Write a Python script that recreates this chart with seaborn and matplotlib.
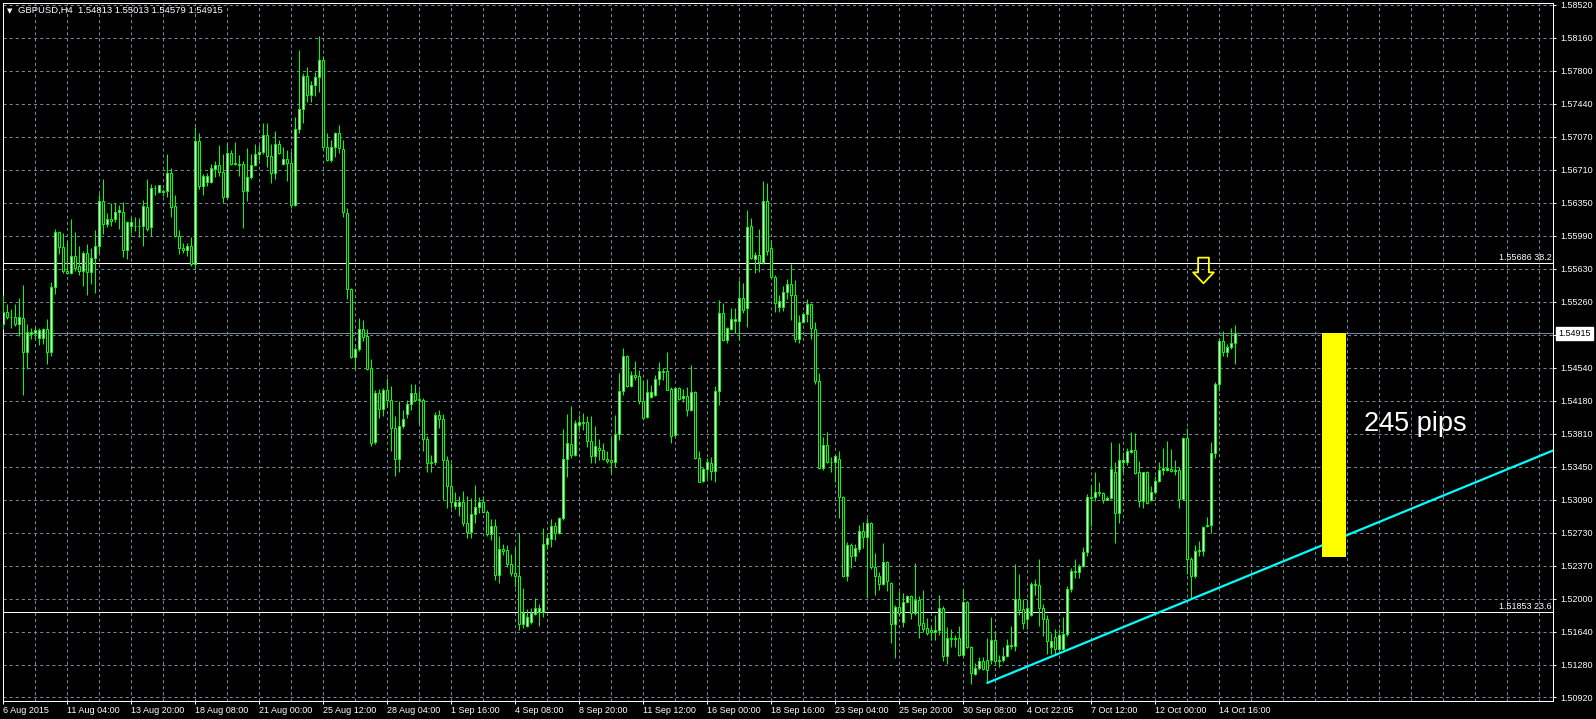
import numpy as np
import matplotlib
matplotlib.use("Agg")
import matplotlib.pyplot as plt
from matplotlib.path import Path
import seaborn as sns

# ---------------- data ----------------
chart_title = "GBPUSD,H4  1.54813 1.55013 1.54579 1.54915"

opens = [
    1.5502, 1.5515, 1.5510, 1.5510, 1.5502, 1.5509, 1.5471, 1.5491, 1.5492, 1.5487,
    1.5487, 1.5496, 1.5471, 1.5543, 1.5603, 1.5586, 1.5560, 1.5558, 1.5576, 1.5566,
    1.5560, 1.5580, 1.5559, 1.5574, 1.5587, 1.5637, 1.5612, 1.5617, 1.5617, 1.5625,
    1.5625, 1.5583, 1.5609, 1.5610, 1.5609, 1.5609, 1.5630, 1.5608, 1.5651, 1.5647,
    1.5648, 1.5648, 1.5668, 1.5631, 1.5598, 1.5585, 1.5583, 1.5588, 1.5568, 1.5703,
    1.5653, 1.5658, 1.5658, 1.5672, 1.5676, 1.5669, 1.5641, 1.5690, 1.5679, 1.5678,
    1.5677, 1.5648, 1.5663, 1.5676, 1.5689, 1.5691, 1.5709, 1.5686, 1.5668, 1.5699,
    1.5678, 1.5683, 1.5679, 1.5632, 1.5716, 1.5738, 1.5774, 1.5753, 1.5764, 1.5773,
    1.5792, 1.5696, 1.5682, 1.5696, 1.5712, 1.5694, 1.5624, 1.5540, 1.5466, 1.5474,
    1.5496, 1.5489, 1.5454, 1.5372, 1.5426, 1.5409, 1.5430, 1.5418, 1.5388, 1.5354,
    1.5390, 1.5403, 1.5414, 1.5426, 1.5420, 1.5419, 1.5376, 1.5350, 1.5350, 1.5402,
    1.5398, 1.5353, 1.5324, 1.5302, 1.5302, 1.5307, 1.5283, 1.5274, 1.5293, 1.5301,
    1.5307, 1.5296, 1.5271, 1.5280, 1.5226, 1.5255, 1.5254, 1.5239, 1.5229, 1.5225,
    1.5173, 1.5170, 1.5175, 1.5184, 1.5186, 1.5186, 1.5261, 1.5266, 1.5280, 1.5273,
    1.5289, 1.5354, 1.5370, 1.5358, 1.5391, 1.5394, 1.5394, 1.5373, 1.5357, 1.5366,
    1.5364, 1.5354, 1.5353, 1.5350, 1.5381, 1.5428, 1.5467, 1.5434, 1.5446, 1.5445,
    1.5417, 1.5400, 1.5422, 1.5424, 1.5441, 1.5450, 1.5450, 1.5431, 1.5380, 1.5432,
    1.5421, 1.5423, 1.5407, 1.5427, 1.5355, 1.5330, 1.5343, 1.5349, 1.5341, 1.5428,
    1.5514, 1.5484, 1.5496, 1.5505, 1.5505, 1.5530, 1.5519, 1.5609, 1.5573, 1.5578,
    1.5570, 1.5637, 1.5585, 1.5553, 1.5521, 1.5521, 1.5537, 1.5546, 1.5534, 1.5485,
    1.5504, 1.5513, 1.5524, 1.5496, 1.5439, 1.5344, 1.5369, 1.5351, 1.5350, 1.5354,
    1.5312, 1.5225, 1.5259, 1.5247, 1.5255, 1.5275, 1.5268, 1.5283, 1.5235, 1.5225,
    1.5217, 1.5241, 1.5218, 1.5173, 1.5191, 1.5175, 1.5197, 1.5203, 1.5185, 1.5199,
    1.5174, 1.5168, 1.5166, 1.5164, 1.5166, 1.5190, 1.5137, 1.5157, 1.5156, 1.5157,
    1.5139, 1.5197, 1.5147, 1.5118, 1.5124, 1.5132, 1.5133, 1.5133, 1.5155, 1.5133,
    1.5133, 1.5137, 1.5148, 1.5148, 1.5200, 1.5189, 1.5178, 1.5183, 1.5215, 1.5215,
    1.5190, 1.5178, 1.5147, 1.5158, 1.5145, 1.5145, 1.5162, 1.5211, 1.5231, 1.5230,
    1.5236, 1.5252, 1.5312, 1.5312, 1.5317, 1.5316, 1.5309, 1.5311, 1.5339, 1.5295,
    1.5350, 1.5350, 1.5361, 1.5364, 1.5339, 1.5308, 1.5339, 1.5309, 1.5318, 1.5330,
    1.5342, 1.5342, 1.5343, 1.5341, 1.5342, 1.5310, 1.5377, 1.5244, 1.5225, 1.5253,
    1.5253, 1.5280, 1.5281, 1.5360, 1.5436, 1.5483, 1.5471, 1.5477, 1.54813,
]

highs = [
    1.5534, 1.5524, 1.5518, 1.5524, 1.5530, 1.5545, 1.5502, 1.5498, 1.5499, 1.5498,
    1.5498, 1.5507, 1.5548, 1.5606, 1.5604, 1.5602, 1.5592, 1.5617, 1.5603, 1.5588,
    1.5582, 1.5590, 1.5585, 1.5605, 1.5645, 1.5661, 1.5624, 1.5635, 1.5635, 1.5633,
    1.5636, 1.5615, 1.5619, 1.5619, 1.5618, 1.5638, 1.5661, 1.5656, 1.5654, 1.5655,
    1.5650, 1.5688, 1.5673, 1.5643, 1.5605, 1.5591, 1.5591, 1.5597, 1.5718, 1.5711,
    1.5666, 1.5668, 1.5678, 1.5681, 1.5698, 1.5688, 1.5700, 1.5693, 1.5702, 1.5687,
    1.5681, 1.5695, 1.5689, 1.5699, 1.5698, 1.5723, 1.5723, 1.5699, 1.5714, 1.5704,
    1.5696, 1.5693, 1.5692, 1.5729, 1.5803, 1.5777, 1.5784, 1.5769, 1.5778, 1.5818,
    1.5796, 1.5711, 1.5704, 1.5713, 1.5720, 1.5704, 1.5629, 1.5541, 1.5477, 1.5508,
    1.5506, 1.5496, 1.5463, 1.5429, 1.5431, 1.5432, 1.5443, 1.5434, 1.5401, 1.5417,
    1.5408, 1.5419, 1.5436, 1.5436, 1.5430, 1.5421, 1.5379, 1.5358, 1.5405, 1.5408,
    1.5403, 1.5357, 1.5349, 1.5318, 1.5313, 1.5319, 1.5313, 1.5311, 1.5325, 1.5312,
    1.5313, 1.5298, 1.5288, 1.5288, 1.5269, 1.5261, 1.5259, 1.5249, 1.5256, 1.5272,
    1.5212, 1.5189, 1.5190, 1.5201, 1.5195, 1.5278, 1.5273, 1.5288, 1.5285, 1.5290,
    1.5387, 1.5403, 1.5412, 1.5396, 1.5402, 1.5404, 1.5401, 1.5401, 1.5390, 1.5376,
    1.5371, 1.5363, 1.5377, 1.5402, 1.5448, 1.5476, 1.5468, 1.5450, 1.5461, 1.5451,
    1.5440, 1.5442, 1.5435, 1.5446, 1.5460, 1.5454, 1.5471, 1.5433, 1.5433, 1.5433,
    1.5431, 1.5433, 1.5457, 1.5428, 1.5363, 1.5345, 1.5355, 1.5356, 1.5434, 1.5528,
    1.5525, 1.5499, 1.5519, 1.5519, 1.5550, 1.5547, 1.5627, 1.5618, 1.5581, 1.5606,
    1.5659, 1.5657, 1.5594, 1.5556, 1.5534, 1.5544, 1.5551, 1.5568, 1.5550, 1.5512,
    1.5515, 1.5529, 1.5525, 1.5504, 1.5448, 1.5378, 1.5383, 1.5356, 1.5358, 1.5363,
    1.5313, 1.5263, 1.5262, 1.5260, 1.5281, 1.5285, 1.5289, 1.5285, 1.5251, 1.5230,
    1.5262, 1.5242, 1.5219, 1.5193, 1.5209, 1.5207, 1.5205, 1.5205, 1.5240, 1.5203,
    1.5210, 1.5179, 1.5171, 1.5183, 1.5204, 1.5192, 1.5169, 1.5167, 1.5161, 1.5171,
    1.5211, 1.5198, 1.5149, 1.5130, 1.5136, 1.5136, 1.5157, 1.5180, 1.5165, 1.5139,
    1.5147, 1.5156, 1.5171, 1.5238, 1.5227, 1.5200, 1.5200, 1.5219, 1.5222, 1.5244,
    1.5195, 1.5183, 1.5163, 1.5167, 1.5167, 1.5180, 1.5214, 1.5234, 1.5244, 1.5238,
    1.5257, 1.5315, 1.5324, 1.5340, 1.5328, 1.5318, 1.5313, 1.5372, 1.5350, 1.5371,
    1.5361, 1.5366, 1.5383, 1.5382, 1.5352, 1.5340, 1.5341, 1.5324, 1.5335, 1.5350,
    1.5366, 1.5373, 1.5365, 1.5353, 1.5345, 1.5378, 1.5388, 1.5246, 1.5259, 1.5264,
    1.5280, 1.5290, 1.5372, 1.5438, 1.5485, 1.5494, 1.5480, 1.5497, 1.55013,
]

lows = [
    1.5496, 1.5507, 1.5498, 1.5500, 1.5489, 1.5424, 1.5453, 1.5485, 1.5485, 1.5479,
    1.5480, 1.5458, 1.5467, 1.5535, 1.5579, 1.5558, 1.5557, 1.5557, 1.5560, 1.5556,
    1.5544, 1.5534, 1.5546, 1.5536, 1.5580, 1.5601, 1.5608, 1.5609, 1.5614, 1.5606,
    1.5575, 1.5573, 1.5602, 1.5604, 1.5597, 1.5588, 1.5604, 1.5599, 1.5643, 1.5646,
    1.5642, 1.5641, 1.5619, 1.5597, 1.5579, 1.5580, 1.5577, 1.5566, 1.5562, 1.5650,
    1.5644, 1.5653, 1.5657, 1.5663, 1.5664, 1.5635, 1.5639, 1.5676, 1.5676, 1.5664,
    1.5607, 1.5637, 1.5661, 1.5675, 1.5682, 1.5688, 1.5674, 1.5657, 1.5661, 1.5688,
    1.5676, 1.5659, 1.5629, 1.5631, 1.5712, 1.5722, 1.5745, 1.5745, 1.5752, 1.5756,
    1.5693, 1.5681, 1.5680, 1.5685, 1.5690, 1.5619, 1.5529, 1.5465, 1.5452, 1.5472,
    1.5483, 1.5451, 1.5368, 1.5370, 1.5399, 1.5401, 1.5411, 1.5363, 1.5335, 1.5339,
    1.5388, 1.5399, 1.5408, 1.5417, 1.5392, 1.5362, 1.5339, 1.5340, 1.5347, 1.5388,
    1.5309, 1.5300, 1.5300, 1.5299, 1.5291, 1.5280, 1.5267, 1.5267, 1.5283, 1.5295,
    1.5294, 1.5269, 1.5265, 1.5221, 1.5218, 1.5248, 1.5235, 1.5225, 1.5213, 1.5166,
    1.5168, 1.5169, 1.5173, 1.5182, 1.5170, 1.5180, 1.5255, 1.5257, 1.5265, 1.5271,
    1.5287, 1.5334, 1.5355, 1.5357, 1.5387, 1.5386, 1.5367, 1.5349, 1.5349, 1.5353,
    1.5353, 1.5349, 1.5338, 1.5345, 1.5375, 1.5424, 1.5433, 1.5433, 1.5440, 1.5414,
    1.5398, 1.5399, 1.5421, 1.5423, 1.5435, 1.5440, 1.5429, 1.5371, 1.5379, 1.5419,
    1.5416, 1.5401, 1.5406, 1.5354, 1.5328, 1.5328, 1.5333, 1.5331, 1.5329, 1.5413,
    1.5483, 1.5481, 1.5495, 1.5492, 1.5484, 1.5514, 1.5499, 1.5573, 1.5558, 1.5559,
    1.5568, 1.5578, 1.5552, 1.5515, 1.5515, 1.5516, 1.5529, 1.5506, 1.5482, 1.5481,
    1.5503, 1.5504, 1.5485, 1.5436, 1.5343, 1.5342, 1.5349, 1.5339, 1.5328, 1.5289,
    1.5224, 1.5220, 1.5234, 1.5242, 1.5252, 1.5256, 1.5201, 1.5233, 1.5205, 1.5210,
    1.5216, 1.5209, 1.5152, 1.5135, 1.5181, 1.5169, 1.5196, 1.5178, 1.5183, 1.5157,
    1.5164, 1.5161, 1.5155, 1.5155, 1.5161, 1.5132, 1.5129, 1.5147, 1.5147, 1.5138,
    1.5137, 1.5146, 1.5107, 1.5117, 1.5122, 1.5122, 1.5108, 1.5129, 1.5130, 1.5125,
    1.5131, 1.5136, 1.5145, 1.5143, 1.5182, 1.5167, 1.5167, 1.5181, 1.5205, 1.5171,
    1.5159, 1.5140, 1.5140, 1.5139, 1.5144, 1.5144, 1.5159, 1.5208, 1.5223, 1.5223,
    1.5235, 1.5247, 1.5280, 1.5308, 1.5313, 1.5306, 1.5309, 1.5310, 1.5262, 1.5283,
    1.5339, 1.5347, 1.5360, 1.5337, 1.5301, 1.5300, 1.5304, 1.5308, 1.5315, 1.5328,
    1.5336, 1.5341, 1.5339, 1.5336, 1.5300, 1.5309, 1.5228, 1.5201, 1.5223, 1.5247,
    1.5247, 1.5279, 1.5273, 1.5355, 1.5428, 1.5467, 1.5466, 1.5474, 1.54579,
]

closes = [
    1.5515, 1.5510, 1.5510, 1.5502, 1.5510, 1.5471, 1.5493, 1.5493, 1.5495, 1.5495,
    1.5496, 1.5471, 1.5543, 1.5603, 1.5586, 1.5560, 1.5558, 1.5576, 1.5563, 1.5560,
    1.5580, 1.5559, 1.5574, 1.5587, 1.5637, 1.5612, 1.5617, 1.5615, 1.5625, 1.5627,
    1.5583, 1.5614, 1.5614, 1.5609, 1.5610, 1.5631, 1.5606, 1.5651, 1.5651, 1.5654,
    1.5647, 1.5668, 1.5630, 1.5598, 1.5585, 1.5583, 1.5588, 1.5568, 1.5703, 1.5653,
    1.5664, 1.5664, 1.5673, 1.5676, 1.5669, 1.5641, 1.5690, 1.5678, 1.5677, 1.5676,
    1.5648, 1.5663, 1.5676, 1.5689, 1.5691, 1.5709, 1.5686, 1.5668, 1.5699, 1.5690,
    1.5683, 1.5679, 1.5632, 1.5716, 1.5738, 1.5774, 1.5753, 1.5764, 1.5773, 1.5792,
    1.5696, 1.5682, 1.5696, 1.5712, 1.5695, 1.5625, 1.5540, 1.5466, 1.5474, 1.5496,
    1.5488, 1.5452, 1.5371, 1.5426, 1.5409, 1.5430, 1.5418, 1.5388, 1.5354, 1.5390,
    1.5398, 1.5414, 1.5426, 1.5418, 1.5418, 1.5376, 1.5349, 1.5349, 1.5402, 1.5398,
    1.5353, 1.5324, 1.5307, 1.5307, 1.5307, 1.5283, 1.5274, 1.5293, 1.5301, 1.5307,
    1.5296, 1.5271, 1.5280, 1.5226, 1.5255, 1.5253, 1.5239, 1.5229, 1.5225, 1.5173,
    1.5185, 1.5180, 1.5185, 1.5190, 1.5190, 1.5261, 1.5267, 1.5280, 1.5273, 1.5289,
    1.5354, 1.5371, 1.5358, 1.5393, 1.5394, 1.5393, 1.5373, 1.5357, 1.5368, 1.5364,
    1.5354, 1.5352, 1.5350, 1.5381, 1.5428, 1.5467, 1.5434, 1.5446, 1.5444, 1.5417,
    1.5399, 1.5427, 1.5427, 1.5441, 1.5450, 1.5449, 1.5430, 1.5379, 1.5432, 1.5420,
    1.5423, 1.5408, 1.5427, 1.5355, 1.5329, 1.5343, 1.5350, 1.5341, 1.5428, 1.5514,
    1.5484, 1.5497, 1.5507, 1.5507, 1.5530, 1.5517, 1.5608, 1.5574, 1.5578, 1.5570,
    1.5637, 1.5582, 1.5553, 1.5525, 1.5527, 1.5537, 1.5546, 1.5534, 1.5485, 1.5504,
    1.5513, 1.5524, 1.5497, 1.5439, 1.5344, 1.5369, 1.5350, 1.5350, 1.5357, 1.5312,
    1.5225, 1.5259, 1.5247, 1.5256, 1.5275, 1.5268, 1.5283, 1.5235, 1.5225, 1.5217,
    1.5241, 1.5220, 1.5173, 1.5191, 1.5185, 1.5197, 1.5203, 1.5185, 1.5199, 1.5172,
    1.5167, 1.5163, 1.5164, 1.5166, 1.5190, 1.5137, 1.5157, 1.5156, 1.5157, 1.5139,
    1.5197, 1.5147, 1.5119, 1.5124, 1.5132, 1.5123, 1.5122, 1.5155, 1.5132, 1.5132,
    1.5138, 1.5150, 1.5150, 1.5200, 1.5188, 1.5174, 1.5190, 1.5217, 1.5217, 1.5190,
    1.5178, 1.5154, 1.5154, 1.5145, 1.5161, 1.5162, 1.5211, 1.5231, 1.5230, 1.5236,
    1.5252, 1.5312, 1.5311, 1.5317, 1.5316, 1.5309, 1.5311, 1.5343, 1.5295, 1.5353,
    1.5353, 1.5362, 1.5364, 1.5338, 1.5308, 1.5339, 1.5306, 1.5318, 1.5330, 1.5342,
    1.5344, 1.5344, 1.5341, 1.5342, 1.5310, 1.5377, 1.5244, 1.5225, 1.5253, 1.5254,
    1.5279, 1.5281, 1.5360, 1.5436, 1.5483, 1.5471, 1.5477, 1.5481, 1.54915,
]

time_labels = [
    "6 Aug 2015", "11 Aug 04:00", "13 Aug 20:00", "18 Aug 08:00", "21 Aug 00:00",
    "25 Aug 12:00", "28 Aug 04:00", "1 Sep 16:00", "4 Sep 08:00", "8 Sep 20:00",
    "11 Sep 12:00", "16 Sep 00:00", "18 Sep 16:00", "23 Sep 04:00", "25 Sep 20:00",
    "30 Sep 08:00", "4 Oct 22:05", "7 Oct 12:00", "12 Oct 00:00", "14 Oct 16:00",
]
bars_per_label = 16

price_labels = [
    "1.50920", "1.51280", "1.51640", "1.52000", "1.52370", "1.52730", "1.53090",
    "1.53450", "1.53810", "1.54180", "1.54540", "1.54900", "1.55260", "1.55630",
    "1.55990", "1.56350", "1.56710", "1.57070", "1.57440", "1.57800", "1.58160",
    "1.58520",
]

fib_levels = [1.55686, 1.51853]
fib_texts = ["1.55686 38.2", "1.51853 23.6"]
last_price = 1.54915
last_price_text = "1.54915"

trend_bars = [246, 297]
trend_prices = [1.5108, 1.5200]

move_pips = 245
move_text = "245 pips"
box_bars = [329.6, 335.7]
move_text_bar = 340.2
move_text_price = 1.5385

arrow_bar = 300
arrow_price = 1.5561

# ---------------- style ----------------
sns.set_theme(style="dark", rc={"axes.facecolor": "black", "figure.facecolor": "black"})
plt.rcParams["font.family"] = ["Liberation Sans", "DejaVu Sans"]
plt.rcParams["lines.scale_dashes"] = False

LIME = "#00FF00"
GRID = "#778899"
PX = 0.72  # one pixel in points at dpi 100

W, H = 1596, 719
fig = plt.figure(figsize=(W / 100, H / 100), dpi=100)
fig.patch.set_facecolor("black")
ax = fig.add_axes([2.5 / W, 1 - 700.7 / H, (1553 - 2.5) / W, (700.7 - 2.7) / H])
ax.set_facecolor("black")
ax.grid(False)

o = np.array(opens)
h = np.array(highs)
l = np.array(lows)
c = np.array(closes)
n = len(c)
assert len(o) == len(h) == len(l) == n
bars = np.arange(n)

# axis ranges
p_lo, p_hi = float(price_labels[0]), float(price_labels[-1])
per_px = (p_hi - p_lo) / 692.5
ax.set_ylim(p_lo - 3.2 * per_px, p_hi + 2.3 * per_px)
ax.set_xlim(-0.2, 387.4)
x_right = ax.get_xlim()[1]

# grid
ytick_pos = np.linspace(p_lo, p_hi, len(price_labels))
for yv in ytick_pos:
    ax.axhline(yv, color=GRID, lw=PX, dashes=(2.2, 2.2), zorder=0)
for xb in np.arange(8, x_right, 8):
    ax.axvline(xb, color=GRID, lw=PX, dashes=(2.2, 2.2), zorder=0)

# fibonacci & price lines
for lvl, txt in zip(fib_levels, fib_texts):
    ax.axhline(lvl, color="white", lw=PX, zorder=2)
    ax.annotate(txt, xy=(1.0, lvl), xycoords=("axes fraction", "data"),
                xytext=(-1.2, 1.2), textcoords="offset points",
                ha="right", va="bottom", color="white", fontsize=6.5, zorder=6)
ax.axhline(last_price, color=GRID, lw=PX, zorder=2)

# candles
up = c >= o
ax.vlines(bars, l, h, color=LIME, lw=PX, zorder=3)
ax.bar(bars, np.abs(c - o), bottom=np.minimum(o, c), width=0.5,
       color=np.where(up, "white", "black"), edgecolor=LIME, linewidth=PX, zorder=4)

# trend line (ray)
slope = (trend_prices[1] - trend_prices[0]) / (trend_bars[1] - trend_bars[0])
tx = [trend_bars[0], x_right + 2]
ty = [trend_prices[0], trend_prices[0] + slope * (x_right + 2 - trend_bars[0])]
sns.lineplot(x=tx, y=ty, color="#00FFFF", lw=1.6, ax=ax, zorder=5, legend=False)

# yellow box of the move
ax.bar((box_bars[0] + box_bars[1]) / 2, move_pips * 0.0001,
       bottom=last_price - move_pips * 0.0001, width=box_bars[1] - box_bars[0],
       color="#FFFF00", linewidth=0, zorder=5)
ax.text(move_text_bar, move_text_price, move_text, color="white", fontsize=19.5,
        ha="left", va="baseline", zorder=6)

# signal arrow (hollow down arrow marker)
arrow_shape = Path([(-0.26, 0.62), (0.26, 0.62), (0.26, -0.09), (0.5, -0.09),
                    (0.0, -0.62), (-0.5, -0.09), (-0.26, -0.09), (-0.26, 0.62)],
                   [Path.MOVETO] + [Path.LINETO] * 6 + [Path.CLOSEPOLY])
ax.plot([arrow_bar], [arrow_price], marker=arrow_shape, markersize=18.5,
        markerfacecolor="none", markeredgecolor="#FFFF00", markeredgewidth=1.3,
        linestyle="none", zorder=6)

# ticks
ax.set_xticks(bars[::bars_per_label])
ax.set_xticklabels(time_labels, ha="left")
ax.tick_params(axis="x", colors="white", length=2.2, width=PX, pad=1.5,
               labelsize=6.5, direction="out", bottom=True)
ax.yaxis.tick_right()
ax.set_yticks(ytick_pos)
ax.set_yticklabels(price_labels)
ax.tick_params(axis="y", colors="white", length=2.2, width=PX, pad=3,
               labelsize=6.5, direction="out", right=True, left=False)
for sp in ax.spines.values():
    sp.set_visible(True)
    sp.set_color("white")
    sp.set_linewidth(PX)

# current price label
ax.annotate(last_price_text, xy=(1.0, last_price), xycoords=("axes fraction", "data"),
            xytext=(3.8, 0), textcoords="offset points", ha="left", va="center",
            color="black", fontsize=6.5, zorder=10, annotation_clip=False,
            bbox=dict(boxstyle="square,pad=0.2", fc="white", ec="white"))

# header
fig.text(9.7 / W, 1 - 10.8 / H, "\u25bc", color="white", fontsize=5,
         family=["DejaVu Sans"], ha="center", va="center")
fig.text(18.0 / W, 1 - 10.7 / H, chart_title, color="white", fontsize=6.8,
         ha="left", va="center")

fig.savefig("out.png", dpi=100, facecolor="black")
